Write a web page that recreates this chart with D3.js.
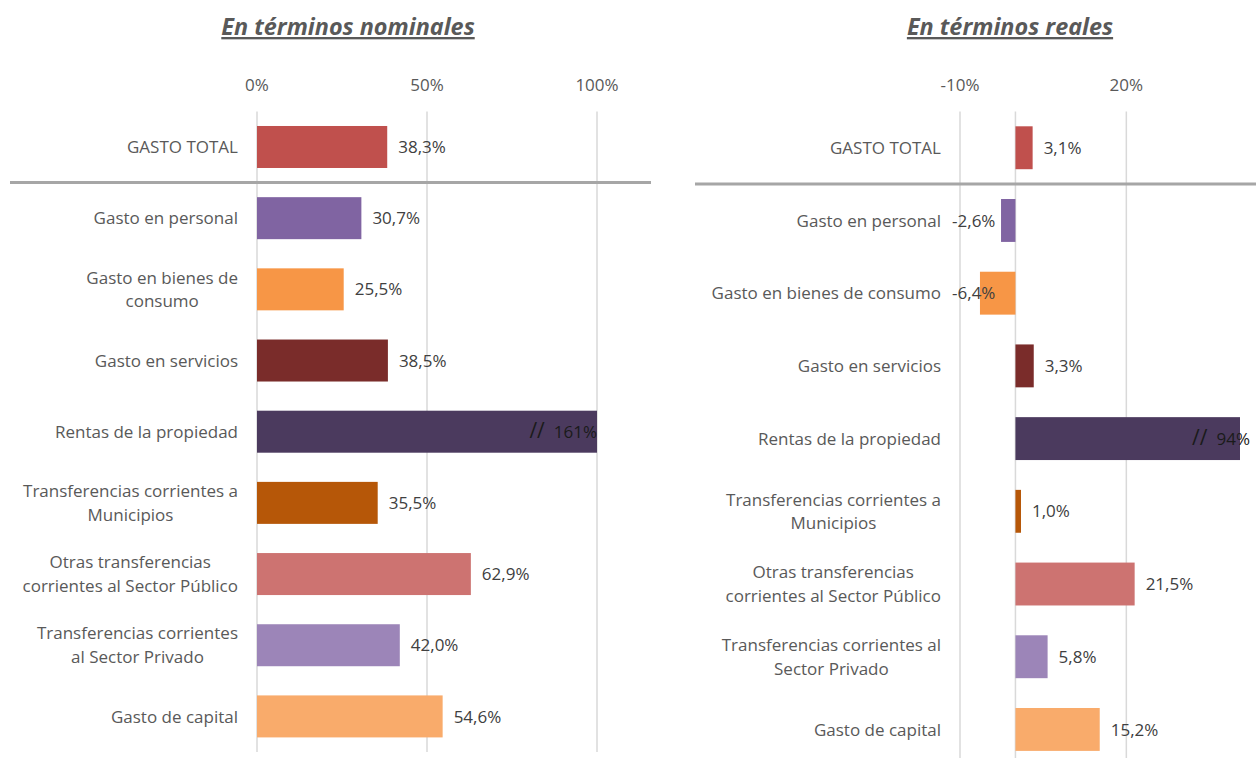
<!DOCTYPE html>
<html>
<head>
<meta charset="utf-8">
<script src="https://cdn.jsdelivr.net/npm/d3@7"></script>
<style>
  body { margin: 0; background: #fff; }
  svg { display: block; font-family: "Open Sans", Lato, sans-serif; }
  .cat { fill: #595959; font-size: 17px; }
  .tick-label { fill: #595959; font-size: 17px; }
  .val { fill: #404040; font-size: 17px; }
  .val-break { fill: #1a1a1a; }
  .slashes { font-size: 21px; }
  .title { fill: #595959; font-size: 23.4px; font-weight: bold; font-style: italic; text-decoration: underline; }
</style>
</head>
<body>
<div class="js-chart"></div>
<script>
// Data
const nominalLabels = [
  ["GASTO TOTAL"],
  ["Gasto en personal"],
  ["Gasto en bienes de", "consumo"],
  ["Gasto en servicios"],
  ["Rentas de la propiedad"],
  ["Transferencias corrientes a", "Municipios"],
  ["Otras transferencias", "corrientes al Sector Público"],
  ["Transferencias corrientes", "al Sector Privado"],
  ["Gasto de capital"]
];
const realLabels = [
  ["GASTO TOTAL"],
  ["Gasto en personal"],
  ["Gasto en bienes de consumo"],
  ["Gasto en servicios"],
  ["Rentas de la propiedad"],
  ["Transferencias corrientes a", "Municipios"],
  ["Otras transferencias", "corrientes al Sector Público"],
  ["Transferencias corrientes al", "Sector Privado"],
  ["Gasto de capital"]
];
const nominalValues = [38.3, 30.7, 25.5, 38.5, 161, 35.5, 62.9, 42.0, 54.6];
const realValues = [3.1, -2.6, -6.4, 3.3, 94, 1.0, 21.5, 5.8, 15.2];
const nominalTicks = [0, 50, 100];
const realTicks = [-10, 20];
const barColors = ["#C0504D", "#8064A2", "#F79646", "#7A2C2A", "#4B3A5E",
                   "#B65708", "#CD7371", "#9C85B8", "#F9AB6B"];

const chart = (function () {
  "use strict";

  var svg = null;
  var esLocale = d3.formatLocale({ decimal: ",", thousands: ".", grouping: [3], currency: ["", ""], minus: "-" });
  var fmt1 = esLocale.format(".1f");

  var init = function (selector) {
    svg = d3.select(selector).append("svg")
      .attr("width", 1256)
      .attr("height", 758);

    drawPanel({
      title: "En términos nominales",
      titleX: 348,
      labels: nominalLabels,
      values: nominalValues,
      ticks: nominalTicks,
      domain: [0, 100],
      xRange: [257, 597],
      yRange: [111.4, 752],
      gridBottom: 752,
      sepRange: [10, 651],
      breakDx: 0
    });

    drawPanel({
      title: "En términos reales",
      titleX: 1010,
      labels: realLabels,
      values: realValues,
      ticks: realTicks,
      domain: [-10, 40.5],
      xRange: [960, 1240],
      yRange: [111.4, 765.8],
      gridBottom: 758,
      sepRange: [695, 1256],
      breakDx: 10
    });
  };

  /**
   * One horizontal bar panel. Bars past the domain are cut and get a "//" label.
   */
  var drawPanel = function (p) {
    var g = svg.append("g");
    var idx = d3.range(p.values.length);

    var x = d3.scaleLinear().domain(p.domain).range(p.xRange);
    var y = d3.scaleBand().domain(idx).range(p.yRange)
      .paddingInner(0.41).paddingOuter(0.205);

    g.append("text")
      .attr("class", "title")
      .attr("x", p.titleX)
      .attr("y", 35)
      .attr("text-anchor", "middle")
      .text(p.title);

    // gridlines (plus the zero line)
    var gridVals = p.ticks.indexOf(0) < 0 ? p.ticks.concat([0]) : p.ticks;
    g.selectAll(".grid").data(gridVals).enter().append("line")
      .attr("x1", function (d) { return x(d); })
      .attr("x2", function (d) { return x(d); })
      .attr("y1", p.yRange[0])
      .attr("y2", p.gridBottom)
      .attr("stroke", "#D9D9D9")
      .attr("stroke-width", 1.5);

    g.selectAll(".tick-label").data(p.ticks).enter().append("text")
      .attr("class", "tick-label")
      .attr("x", function (d) { return x(d); })
      .attr("y", 91)
      .attr("text-anchor", "middle")
      .text(function (d) { return d + "%"; });

    var maxV = p.domain[1];
    g.selectAll(".bar").data(idx).enter().append("rect")
      .attr("x", function (i) { return x(Math.min(0, p.values[i])); })
      .attr("width", function (i) {
        var v = Math.min(p.values[i], maxV);
        return Math.abs(x(v) - x(0));
      })
      .attr("y", function (i) { return y(i); })
      .attr("height", y.bandwidth())
      .attr("fill", function (i) { return barColors[i]; });

    // value labels
    var vals = g.selectAll(".val").data(idx).enter().append("text")
      .attr("class", function (i) { return p.values[i] > maxV ? "val val-break" : "val"; })
      .attr("x", function (i) {
        var v = p.values[i];
        if (v > maxV) return x(maxV) + p.breakDx;
        if (v < 0) return x(0) - 20;
        return x(v) + 11;
      })
      .attr("y", function (i) { return y(i) + y.bandwidth() / 2; })
      .attr("dy", "0.36em")
      .attr("text-anchor", function (i) {
        var v = p.values[i];
        return (v > maxV || v < 0) ? "end" : "start";
      });

    vals.each(function (i) {
      var v = p.values[i];
      var t = d3.select(this);
      if (v > maxV) {
        // cut bar: bigger slashes then the real value
        t.append("tspan").attr("class", "slashes").text("//");
        t.append("tspan").attr("dx", 9).text(Math.round(v) + "%");
      } else {
        t.text(fmt1(v) + "%");
      }
    });

    // category labels, multi-line ones centred on their widest line
    var labelRight = p.xRange[0] - 19;
    idx.forEach(function (i) {
      var lines = p.labels[i];
      var t = g.append("text")
        .attr("class", "cat")
        .attr("y", y(i) + y.bandwidth() / 2);
      lines.forEach(function (s, k) {
        t.append("tspan")
          .attr("dy", k === 0 ? (0.36 - (lines.length - 1) * 0.7) + "em" : "1.4em")
          .text(s);
      });
      if (lines.length === 1) {
        t.attr("text-anchor", "end");
        t.selectAll("tspan").attr("x", labelRight);
      } else {
        var w = d3.max(t.selectAll("tspan").nodes(), function (n) { return n.getComputedTextLength(); });
        t.attr("text-anchor", "middle");
        t.selectAll("tspan").attr("x", labelRight - w / 2);
      }
    });

    // thick separator under the total
    var sepY = p.yRange[0] + y.step();
    g.append("line")
      .attr("x1", p.sepRange[0])
      .attr("x2", p.sepRange[1])
      .attr("y1", sepY)
      .attr("y2", sepY)
      .attr("stroke", "#A6A6A6")
      .attr("stroke-width", 3);
  };

  return { init: init };
})();

chart.init(".js-chart");
</script>
</body>
</html>
